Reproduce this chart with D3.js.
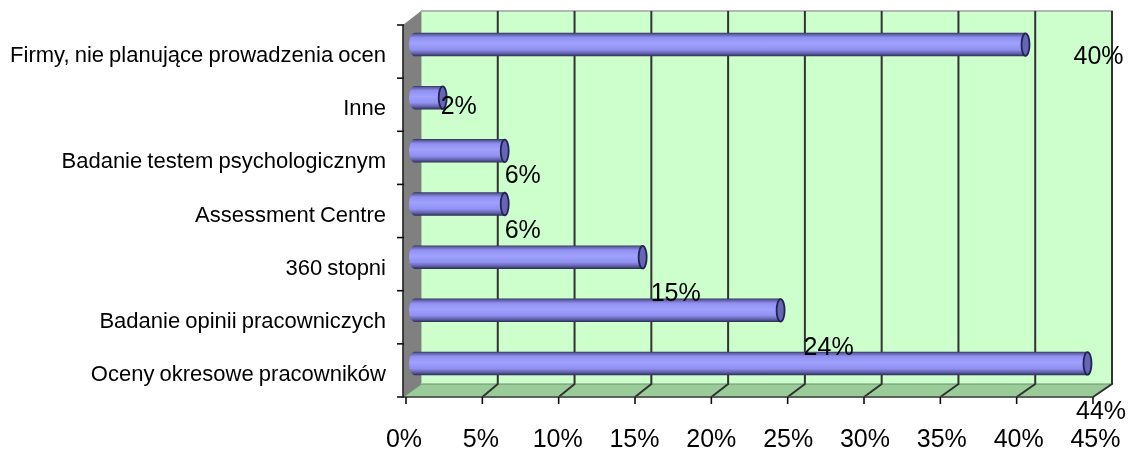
<!DOCTYPE html>
<html><head><meta charset="utf-8">
<script src="https://cdn.jsdelivr.net/npm/d3@7"></script>
<style>html,body{margin:0;padding:0;background:#fff}svg{display:block}text{font-family:"Liberation Sans",Arial,sans-serif;fill:#000}</style>
</head><body><svg id="c" width="1130" height="452"></svg>
<script>
const categories=["Firmy, nie planujące prowadzenia ocen","Inne","Badanie testem psychologicznym","Assessment Centre","360 stopni","Badanie opinii pracowniczych","Oceny okresowe pracowników"];
const values=[40,2.4,6.4,6.4,15.3,24.2,44];
const valueLabels=["40%","2%","6%","6%","15%","24%","44%"];
const labelOffsets=[[48,19],[-2,16.5],[0,32.5],[0,33.5],[8,43.5],[23,44.5],[-11.5,55.5]];
const axisTicks=[0,5,10,15,20,25,30,35,40,45];

const svg=d3.select("#c");
const defs=svg.append("defs");
const grad=defs.append("linearGradient").attr("id","bar").attr("x1",0).attr("x2",0).attr("y1",0).attr("y2",1);
[[0,"#33335a"],[.07,"#6060a8"],[.2,"#9090f0"],[.45,"#a0a0ff"],[.72,"#9090f0"],[.88,"#6060aa"],[1,"#2c2c50"]].forEach(s=>grad.append("stop").attr("offset",s[0]).attr("stop-color",s[1]));
const blur=defs.append("filter").attr("id","soft").attr("x","-5%").attr("y","-5%").attr("width","110%").attr("height","110%");
blur.append("feGaussianBlur").attr("stdDeviation",0.6);
const blurT=defs.append("filter").attr("id","softT").attr("x","-5%").attr("y","-5%").attr("width","110%").attr("height","110%");
blurT.append("feGaussianBlur").attr("stdDeviation",0.35);

const front=d3.scaleLinear().domain([0,45]).range([406,1093]);
const back=d3.scaleLinear().domain([0,45]).range([421,1112]);
const tickLabelX=d3.scaleLinear().domain([0,45]).range([404,1095.5]);
const barX=d3.scaleLinear().domain([0,45]).range([405.5,1103]);
const yBand=d3.scaleBand().domain(categories).range([25,397]);
const barCenter=c=>yBand(c)+yBand.bandwidth()/2-7;
const topY=11,botY=384,frontY=397,frontTop=25,barH=23.5,wallX=403,capX=409;

const g=svg.append("g").attr("filter","url(#soft)");
g.append("rect").attr("x",back(0)).attr("y",topY).attr("width",back(45)-back(0)).attr("height",botY-topY).attr("fill","#ccffcc");
g.append("line").attr("x1",back(0)).attr("x2",back(45)+1).attr("y1",topY).attr("y2",topY).attr("stroke","#b5b5b5").attr("stroke-width",2);
g.append("path").attr("d",`M${wallX},${frontY}L${back(0)},${botY}L${back(45)},${botY}L${front(45)},${frontY}Z`).attr("fill","#99cc99").attr("stroke","#6f8f6f").attr("stroke-width",1.2);
g.append("line").attr("x1",back(0)).attr("x2",back(0)).attr("y1",topY).attr("y2",botY).attr("stroke","#a8c8a8").attr("stroke-width",2);
g.append("path").attr("d",`M${wallX},${frontTop}L${back(0)},${topY}L${back(0)},${botY}L${wallX},${frontY}Z`).attr("fill","#808080");
axisTicks.filter(t=>t>0).forEach(t=>{
  g.append("path").attr("d",`M${back(t)},${topY}L${back(t)},${botY}L${front(t)},${frontY}`).attr("fill","none").attr("stroke","#333").attr("stroke-width",2);
});
g.append("line").attr("x1",wallX).attr("x2",wallX).attr("y1",frontTop).attr("y2",frontY).attr("stroke","#222").attr("stroke-width",1.6);
g.append("line").attr("x1",wallX).attr("x2",front(45)).attr("y1",frontY).attr("y2",frontY).attr("stroke","#444").attr("stroke-width",1.6);
axisTicks.forEach(t=>g.append("line").attr("x1",front(t)).attr("x2",front(t)).attr("y1",frontY).attr("y2",frontY+7).attr("stroke","#111").attr("stroke-width",1.6));
categories.forEach(c=>g.append("line").attr("x1",397).attr("x2",wallX+1).attr("y1",yBand(c)).attr("y2",yBand(c)).attr("stroke","#111").attr("stroke-width",1.6));
g.append("line").attr("x1",397).attr("x2",wallX+1).attr("y1",frontY).attr("y2",frontY).attr("stroke","#111").attr("stroke-width",1.6);
categories.forEach((c,i)=>{
  const cy=barCenter(c), x1=barX(values[i]);
  g.append("path").attr("d",`M${capX+6},${cy-barH/2}L${x1},${cy-barH/2}L${x1},${cy+barH/2}L${capX+6},${cy+barH/2}A6,${barH/2} 0 0 1 ${capX+6},${cy-barH/2}Z`).attr("fill","url(#bar)");
  g.append("ellipse").attr("cx",x1).attr("cy",cy).attr("rx",4).attr("ry",barH/2-.5).attr("fill","#6666b4").attr("stroke","#222255").attr("stroke-width",1.8);
});
const txt=svg.append("g").attr("filter","url(#softT)");
categories.forEach(c=>txt.append("text").attr("x",386).attr("y",barCenter(c)+17.5).attr("text-anchor","end").attr("font-size",22).attr("word-spacing",-1).text(c));
categories.forEach((c,i)=>{
  txt.append("text").attr("x",barX(values[i])+labelOffsets[i][0]).attr("y",barCenter(c)+labelOffsets[i][1]).attr("font-size",25).text(valueLabels[i]);
});
axisTicks.forEach(t=>txt.append("text").attr("x",tickLabelX(t)).attr("y",446.5).attr("text-anchor","middle").attr("font-size",25).text(t+"%"));
</script></body></html>
